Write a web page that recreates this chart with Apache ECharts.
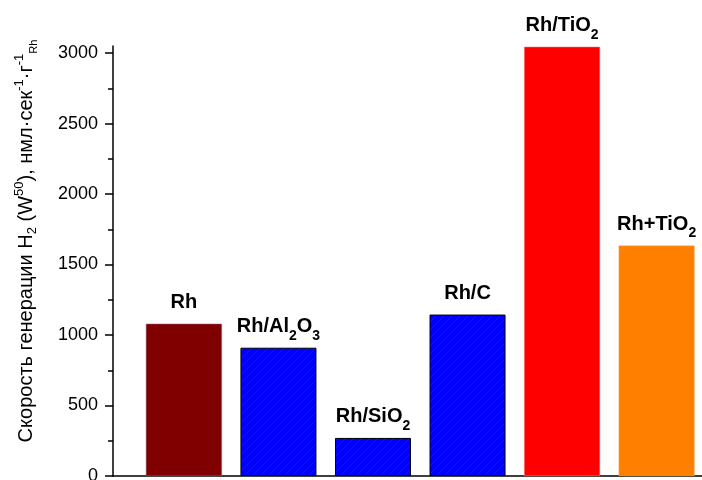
<!DOCTYPE html>
<html>
<head>
<meta charset="utf-8">
<script src="https://cdn.jsdelivr.net/npm/echarts@6/dist/echarts.min.js"></script>
<style>
  html, body { margin: 0; padding: 0; background: #fff; }
  #chart { width: 702px; height: 480px; }
</style>
</head>
<body>
<div id="chart"></div>
<script>
// data
var categories = ["Rh", "Rh/Al2O3", "Rh/SiO2", "Rh/C", "Rh/TiO2", "Rh+TiO2"];
var rates = [1080, 910, 270, 1145, 3045, 1635];
var majorTicks = [0, 500, 1000, 1500, 2000, 2500, 3000];
var minorTicks = [250, 750, 1250, 1750, 2250, 2750];

// hatched fill: blue with thin dark red "/" lines
function hatch() {
  var n = 8;
  var c = document.createElement("canvas");
  c.width = n;
  c.height = n;
  var ctx = c.getContext("2d");
  ctx.fillStyle = "#0000ff";
  ctx.fillRect(0, 0, n, n);
  ctx.fillStyle = "#990000";
  for (var i = 0; i < n; i++) {
    ctx.fillRect(i, n - 1 - i, 1, 1);
  }
  return c;
}
var hatchFill = { image: hatch(), repeat: "repeat" };
var barStyles = [
  { color: "#800000", borderColor: "#8a5a80", borderWidth: 0.5 },
  { color: hatchFill, borderColor: "#000", borderWidth: 1 },
  { color: hatchFill, borderColor: "#000", borderWidth: 1 },
  { color: hatchFill, borderColor: "#000", borderWidth: 1 },
  { color: "#ff0000", borderColor: "#ff8080", borderWidth: 0.5 },
  { color: "#ff8000", borderColor: "#ffb060", borderWidth: 0.5 },
];

// "Rh/Al2O3" -> rich text with subscript digits
function richName(s) {
  return s.replace(/([^0-9]+)|([0-9]+)/g, function (m, a, d) {
    return a ? "{a|" + a + "}" : "{s|" + d + "}";
  });
}

var font = "Liberation Sans, Arial, sans-serif";
var chart = echarts.init(document.getElementById("chart"));

chart.setOption({
  animation: false,
  grid: { left: 113, right: 0, top: 46, bottom: 4, outerBoundsMode: "none", containLabel: false },
  xAxis: {
    type: "value",
    min: 0.25,
    max: 6.48,
    axisLine: { show: true, lineStyle: { color: "#000", width: 1.5 } },
    axisTick: { show: false },
    axisLabel: { show: false },
    splitLine: { show: false },
  },
  yAxis: [
    {
      type: "value",
      min: 0,
      max: 3050,
      interval: 500,
      position: "left",
      axisLine: { show: true, onZero: false, lineStyle: { color: "#000", width: 1.5 } },
      axisTick: { show: true, length: 8, customValues: majorTicks, lineStyle: { color: "#000", width: 1.5 } },
      axisLabel: {
        customValues: majorTicks,
        margin: 15,
        color: "#000",
        fontSize: 18,
        fontFamily: font,
        formatter: function (v) {
          return String(v);
        },
      },
      splitLine: { show: false },
      name: "{m|Скорость генерации H}{sb|2}{m| (W}{sp|50}{m|), нмл·сек}{sp|-1}{m|·г}{sp|-1}{sr|Rh}",
      nameLocation: "middle",
      nameGap: 76,
      nameTextStyle: {
        padding: [0, 0, 0, 40],
        rich: {
          m: { fontSize: 20, lineHeight: 22, color: "#000", fontFamily: font },
          sb: { fontSize: 13, lineHeight: 22, padding: [12, 0, 0, 0], color: "#000", fontFamily: font },
          sp: { fontSize: 13, lineHeight: 22, padding: [0, 0, 14, 0], color: "#000", fontFamily: font },
          sr: { fontSize: 11, lineHeight: 22, padding: [16, 0, 0, 0], color: "#000", fontFamily: font },
        },
      },
    },
    {
      // minor ticks
      type: "value",
      min: 0,
      max: 3050,
      position: "left",
      axisLine: { show: false },
      axisTick: { show: true, length: 5, customValues: minorTicks, lineStyle: { color: "#000", width: 1.5 } },
      axisLabel: { show: false },
      splitLine: { show: false },
    },
  ],
  series: [
    {
      type: "bar",
      barWidth: 76,
      data: rates.map(function (v, i) {
        return { value: [i + 1, v], itemStyle: barStyles[i] };
      }),
      label: {
        show: true,
        position: "top",
        distance: 11,
        formatter: function (p) {
          return richName(categories[p.dataIndex]);
        },
        rich: {
          a: { fontSize: 20, fontWeight: "bold", lineHeight: 20, color: "#000", fontFamily: font },
          s: { fontSize: 14, fontWeight: "bold", lineHeight: 20, padding: [18, 0, 0, 0], color: "#000", fontFamily: font },
        },
      },
    },
  ],
});
</script>
</body>
</html>
